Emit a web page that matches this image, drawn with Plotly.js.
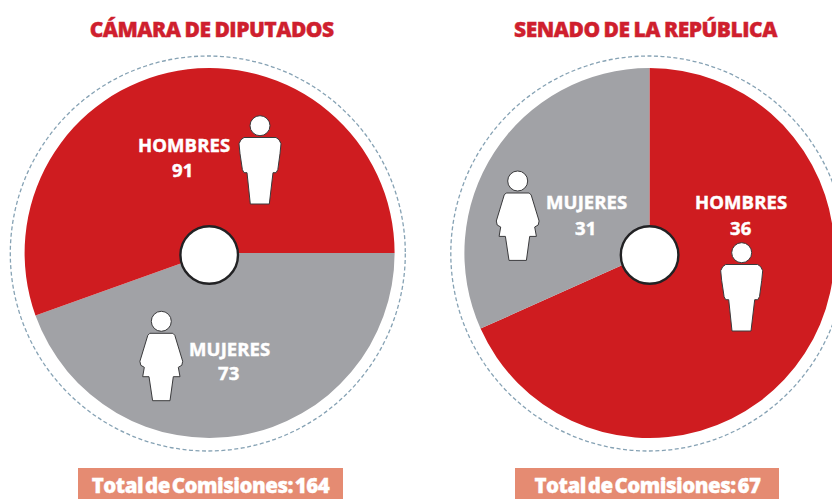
<!DOCTYPE html>
<html>
<head>
<meta charset="utf-8">
<script src="https://cdn.plot.ly/plotly-3.0.1.min.js"></script>
<style>
html,body{margin:0;padding:0;background:#fff;overflow:hidden;width:832px;height:499px}
#chart{width:900px;height:499px}
.annotation-text{letter-spacing:0.1px;stroke:#fff;stroke-width:0.45px}
.annotation[data-index="0"] .annotation-text,.annotation[data-index="1"] .annotation-text{letter-spacing:-0.5px;word-spacing:-1px;stroke:#cf1f2e;stroke-width:0.4px}
.annotation[data-index="10"] .annotation-text,.annotation[data-index="11"] .annotation-text{letter-spacing:-0.5px;word-spacing:-3px;stroke-width:0.3px}
</style>
</head>
<body>
<div id="chart"></div>
<script>
// Data
const chamberTitle = 'CÁMARA DE DIPUTADOS';
const senateTitle = 'SENADO DE LA REPÚBLICA';
const chamberLabels = ['MUJERES', 'HOMBRES'];
const chamberValues = [73, 91];
const senateLabels = ['HOMBRES', 'MUJERES'];
const senateValues = [36, 31];          // numbers printed on the chart
const senateDrawnShares = [68.3, 31.7]; // slice sizes as the reference draws them (not proportional to 36/31)
const chamberTotal = 'Total de Comisiones: 164';
const senateTotal = 'Total de Comisiones: 67';

const RED = '#cf1c20', GRAY = '#a1a2a6', SALMON = '#e58b72', TITLE = '#cf1f2e';
const W = 900, H = 499;
const px = x => x / W, py = y => 1 - y / H;
const dom = (cx, cy, r) => ({x: [px(cx - r), px(cx + r)], y: [py(cy + r), py(cy - r)]});

const base = {type: 'pie', sort: false, direction: 'clockwise', textinfo: 'none',
  hoverinfo: 'label+value', showlegend: false, hole: 0.13, marker: {line: {width: 0}}};

const traces = [
  Object.assign({}, base, {labels: chamberLabels, values: chamberValues, rotation: 90,
    domain: dom(209.6, 253, 185), marker: {colors: [GRAY, RED], line: {width: 0}}}),
  Object.assign({}, base, {labels: senateLabels, values: senateDrawnShares, rotation: 0,
    domain: dom(649.4, 253, 185), marker: {colors: [RED, GRAY], line: {width: 0}}})
];

function circle(cx, cy, r, extra) {
  return Object.assign({type: 'circle', xref: 'paper', yref: 'paper', layer: 'above',
    x0: px(cx - r), x1: px(cx + r), y0: py(cy + r), y1: py(cy - r)}, extra);
}
function pathShape(pts) {
  const d = 'M' + pts.map(p => px(p[0]) + ',' + py(p[1])).join(' L') + ' Z';
  return {type: 'path', xref: 'paper', yref: 'paper', layer: 'above', path: d,
    fillcolor: '#fff', line: {color: '#3a3a3c', width: 1}};
}
const iconLine = {color: '#3a3a3c', width: 1};
function man(hx, hy) {
  const o = [[-16,11.8],[16,11.8],[19,14],[21,18],[20,28],[17.8,44],[16,47],[13,47],[9.3,78.3],[-9.7,78.3],[-13,47],[-16,47],[-17.6,44],[-20,28],[-21,18],[-19,14]];
  return [circle(hx, hy, 10, {fillcolor: '#fff', line: iconLine}),
          pathShape(o.map(p => [hx + p[0], hy + p[1]]))];
}
function woman(hx, hy) {
  const o = [[-11.5,12],[11.5,12],[13.5,14],[21.4,40],[20.5,44],[17,46],[18.7,55.4],[12,55.4],[8.7,79.4],[-8.7,79.4],[-12.3,55.4],[-18.6,55.4],[-17,46],[-20.5,44],[-21.4,40],[-13.5,14]];
  return [circle(hx, hy, 10, {fillcolor: '#fff', line: iconLine}),
          pathShape(o.map(p => [hx + p[0], hy + p[1]]))];
}
function rect(x0, x1, y0, y1) {
  return {type: 'rect', xref: 'paper', yref: 'paper', layer: 'below', x0: px(x0), x1: px(x1),
    y0: py(y1), y1: py(y0), fillcolor: SALMON, line: {width: 0}};
}
const dashLine = {color: '#86a2b4', width: 1.3, dash: '4px,2.5px'};
const holeLine = {color: '#222224', width: 2.4};

const shapes = [
  circle(207.8, 253.5, 197.5, {fillcolor: 'rgba(0,0,0,0)', line: dashLine}),
  circle(648.3, 253.5, 197.5, {fillcolor: 'rgba(0,0,0,0)', line: dashLine}),
  circle(209.2, 255, 28.8, {fillcolor: '#fff', line: holeLine}),
  circle(649.6, 255, 28.8, {fillcolor: '#fff', line: holeLine}),
  ...man(260, 125.7), ...man(741.7, 252.7),
  ...woman(161.3, 321.3), ...woman(517.7, 181),
  rect(78, 343, 468, 499), rect(515, 779, 468, 499)
];

function label(text, x, y, size, color, weight) {
  return {text, x: px(x), y: py(y), xref: 'paper', yref: 'paper', showarrow: false,
    xanchor: 'center', yanchor: 'middle',
    font: {family: 'Open Sans, sans-serif', size, color, weight: weight || 700}};
}
const annotations = [
  label(chamberTitle, 211.5, 29, 21, TITLE, 800),
  label(senateTitle, 646, 29, 21, TITLE, 800),
  label(chamberLabels[1], 184, 145, 18.5, '#fff'),
  label(String(chamberValues[1]), 182.5, 169, 18.5, '#fff'),
  label(chamberLabels[0], 229.5, 348, 18.5, '#fff'),
  label(String(chamberValues[0]), 229, 372, 18.5, '#fff'),
  label(senateLabels[1], 586.5, 202, 18.5, '#fff'),
  label(String(senateValues[1]), 585, 227, 18.5, '#fff'),
  label(senateLabels[0], 741, 202, 18.5, '#fff'),
  label(String(senateValues[0]), 740, 227, 18.5, '#fff'),
  label(chamberTotal, 210.5, 484.5, 20.5, '#fff', 800),
  label(senateTotal, 647, 484.5, 20.5, '#fff', 800)
];

Plotly.newPlot('chart', traces, {
  width: W, height: H, margin: {l: 0, r: 0, t: 0, b: 0},
  paper_bgcolor: '#fff', plot_bgcolor: '#fff', showlegend: false,
  shapes, annotations
}, {displayModeBar: false, staticPlot: true});
</script>
</body>
</html>
